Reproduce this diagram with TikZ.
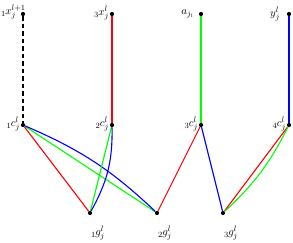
\documentclass[tikz,border=0pt]{standalone}
\begin{document}
\begin{tikzpicture}[x=1pt,y=-1pt,
  dot/.style={circle,fill=black,inner sep=0pt,minimum size=4.2pt},
  lab/.style={inner sep=0.5pt,font=\fontsize{11}{13}\selectfont},
  edge/.style={line width=1.1pt},
]
\useasboundingbox (0,0) rectangle (293,242);
\node[dot] (x1) at (23,14) {};
\node[dot] (x3) at (112,14) {};
\node[dot] (a) at (201,14) {};
\node[dot] (y) at (289,14) {};
\node[dot] (c1) at (23,125) {};
\node[dot] (c2) at (112,125) {};
\node[dot] (c3) at (201,125) {};
\node[dot] (c4) at (289,125) {};
\node[dot] (g1) at (90,213) {};
\node[dot] (g2) at (157,213) {};
\node[dot] (g3) at (223,213) {};
% labels
\node[lab,anchor=west] (lx1) at (0.5,12) {${}_1\mkern-1mu x_j^{l+1}$};
\node[lab,anchor=east] (lx3) at ([xshift=0pt,yshift=1pt]x3.west) {${}_3\mkern-1mu x_j^{l}$};
\node[lab,anchor=east] (la) at ([xshift=-4pt,yshift=0pt]a.west) {$a_{j_l}$};
\node[lab,anchor=east] (ly) at ([xshift=-6pt,yshift=0pt]y.west) {$y_j^{l}$};
\node[lab,anchor=east] (lc1) at ([xshift=0pt,yshift=1pt]c1.west) {${}_1\mkern-1mu c_j^{l}$};
\node[lab,anchor=east] (lc2) at ([xshift=0pt,yshift=1pt]c2.west) {${}_2\mkern-1mu c_j^{l}$};
\node[lab,anchor=east] (lc3) at ([xshift=0pt,yshift=1pt]c3.west) {${}_3\mkern-1mu c_j^{l}$};
\node[lab,anchor=east] (lc4) at ([xshift=0pt,yshift=1pt]c4.west) {${}_4\mkern-1mu c_j^{l}$};
\node[lab] (lg1) at ([xshift=8pt,yshift=-20pt]g1.center) {${}_1\mkern-1mu g_j^{l}$};
\node[lab] (lg2) at ([xshift=8pt,yshift=-20pt]g2.center) {${}_2\mkern-1mu g_j^{l}$};
\node[lab] (lg3) at ([xshift=8pt,yshift=-20pt]g3.center) {${}_3\mkern-1mu g_j^{l}$};
% edges
\draw[edge,dash pattern=on 4.5pt off 3pt] (x1) -- (c1);
\draw[edge,color=red] (x3) -- (c2);
\draw[edge,color=green] (a) -- (c3);
\draw[edge,color=blue] (y) -- (c4);
\draw[edge,color=red] (c1) -- (g1);
\draw[edge,color=green] (c1) -- (g2);
\draw[edge,color=blue] (c1) to[bend left=10] (g2);
\draw[edge,color=green] (c2) -- (g1);
\draw[edge,color=blue] (c2) to[bend left=15] (g1);
\draw[edge,color=red] (c3) -- (g2);
\draw[edge,color=blue] (c3) -- (g3);
\draw[edge,color=red] (c4) -- (g3);
\draw[edge,color=green] (c4) to[bend left=10] (g3);
\end{tikzpicture}
\end{document}
